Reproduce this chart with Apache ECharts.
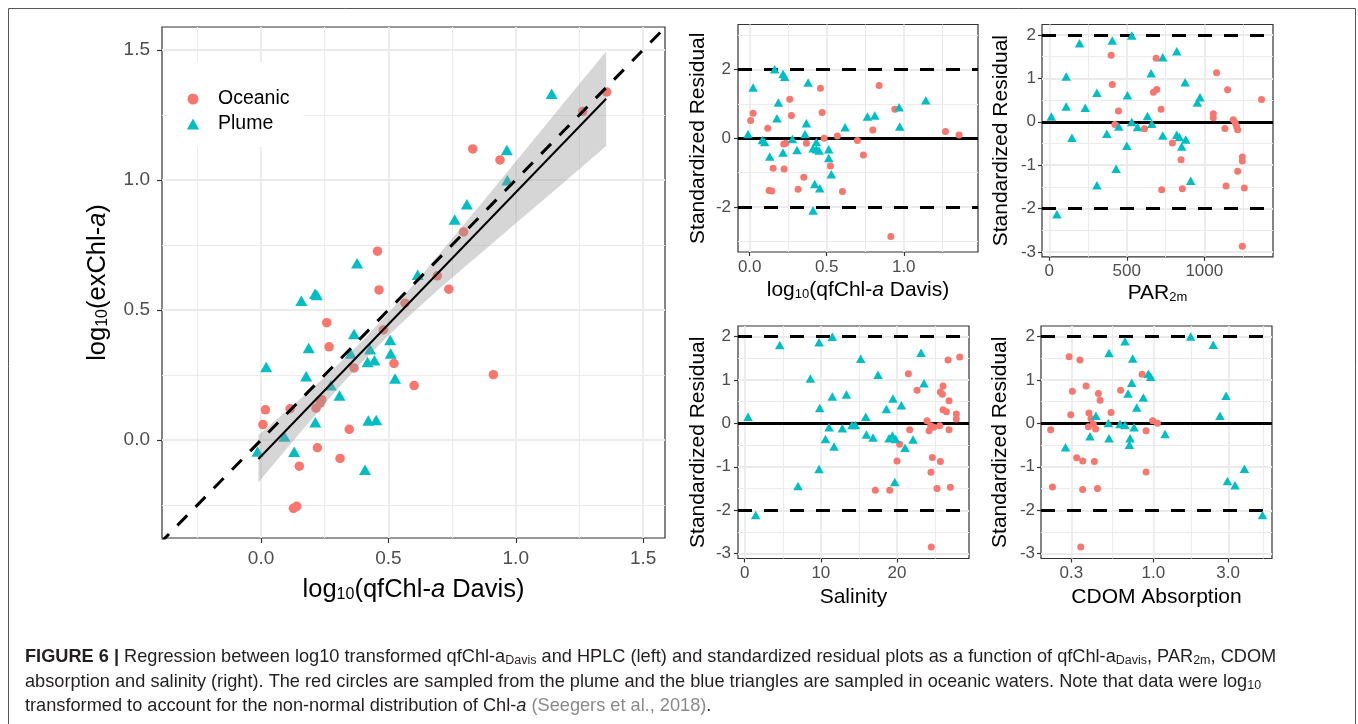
<!DOCTYPE html>
<html><head><meta charset="utf-8">
<script src="https://cdn.jsdelivr.net/npm/echarts@6/dist/echarts.min.js"></script>
<style>html,body{margin:0;padding:0;background:#fff;} #c{width:1358px;height:724px;}</style>
</head><body><div id="c"></div>
<script>
// ---------- Main regression panel ----------
const mainOceanicX = [1.357,1.263,0.831,0.938,0.795,0.457,0.692,0.737,0.463,0.565,0.258,0.480,0.267,0.522,0.365,0.912,0.601,0.238,0.232,0.017,0.114,0.216,0.007,0.346,0.221,0.310,0.150,0.127,0.140];
const mainOceanicY = [1.338,1.263,1.119,1.077,0.800,0.726,0.631,0.580,0.577,0.526,0.451,0.423,0.358,0.294,0.277,0.251,0.209,0.155,0.142,0.116,0.120,0.122,0.059,0.041,-0.030,-0.071,-0.101,-0.263,-0.255];
const mainPlumeX = [1.141,0.965,0.967,0.808,0.760,0.377,0.615,0.212,0.219,0.158,0.365,0.507,0.187,0.428,0.352,0.509,0.418,0.445,0.020,0.177,0.526,0.274,0.308,0.213,0.421,0.452,0.092,0.130,-0.014,0.408];
const mainPlumeY = [1.331,1.115,0.999,0.906,0.848,0.680,0.635,0.562,0.557,0.535,0.407,0.384,0.354,0.349,0.332,0.332,0.300,0.307,0.281,0.245,0.236,0.210,0.171,0.068,0.075,0.077,0.013,-0.045,-0.044,-0.115];
const regX = [-0.0105, 1.355];
const regY = [-0.073, 1.312];
const bandX  = [-0.0105, 0.1, 0.2, 0.3, 0.4, 0.5, 0.6, 0.7, 0.8, 0.9, 1.0, 1.1, 1.2, 1.355];
const bandLo = [-0.164,-0.034,0.082,0.196,0.303,0.402,0.493,0.581,0.666,0.749,0.833,0.916,1.000,1.130];
const bandHi = [0.018,0.112,0.198,0.288,0.383,0.488,0.599,0.715,0.832,0.951,1.071,1.190,1.310,1.494];
const oneToOne = [-0.4, 1.6];
const mainTicks = [0, 0.5, 1.0, 1.5];
const mainMinor = [-0.25, 0.25, 0.75, 1.25];

// ---------- Residual vs log10(qfChl-a Davis) ----------
const res1PlumeX = [-0.011,0.022,0.082,0.097,0.13,0.162,0.216,0.227,0.186,0.177,0.216,0.277,0.307,0.379,0.368,0.359,0.411,0.433,0.433,0.45,0.422,0.455,0.411,0.513,0.513,0.53,0.619,0.764,0.812,0.97,0.974,1.143];
const res1PlumeY = [0.126,1.469,-0.048,-0.106,-0.53,2.0,1.865,1.787,1.034,0.58,-0.415,-0.019,-0.338,1.614,0.435,0.126,-0.29,-0.106,-0.319,-0.357,-1.324,-1.449,-2.097,-0.319,-0.57,-1.043,0.319,0.628,0.657,0.899,0.338,1.101];
const res1OceanicX = [0.006,0.022,0.117,0.126,0.143,0.152,0.221,0.223,0.234,0.26,0.271,0.314,0.351,0.368,0.459,0.47,0.483,0.524,0.569,0.602,0.699,0.738,0.799,0.84,0.942,0.916,1.271,1.359];
const res1OceanicY = [0.512,0.725,0.29,-1.517,-1.527,-0.87,-0.164,-0.889,-0.145,1.13,0.657,-1.478,-1.13,-0.145,1.449,0.744,0.0,-0.802,0.068,-1.546,-0.068,-0.483,0.242,1.527,0.841,-2.85,0.193,0.097];
const res1XTicks = [0, 0.5, 1.0];
const res1XMinor = [0.25, 0.75, 1.25];
const res1YTicks = [-2, 0, 2];
const res1YMinor = [-3, -1, 1, 3];

// ---------- Residual vs PAR2m ----------
const res2PlumeX = [13,49,109,109,146,195,232,307,307,371,406,431,448,500,504,532,532,569,633,657,661,732,732,822,822,839,854,880,876,912,955,972];
const res2PlumeY = [0.123,-2.13,1.042,0.352,-0.368,1.808,0.322,-1.464,0.667,-0.276,1.87,-1.08,-0.107,-0.552,0.613,1.985,-0.008,-0.123,0.13,1.119,-0.046,1.487,-0.314,1.625,-0.299,-0.352,-0.567,-0.406,0.912,-1.356,0.444,0.567];
const res2OceanicX = [399,406,423,446,614,689,672,693,721,725,794,850,858,1058,1058,1079,1133,1140,1150,1187,1200,1208,1215,1215,1245,1245,1258,1245,1369];
const res2OceanicY = [1.533,0.858,-0.061,0.245,-0.161,1.464,0.682,0.743,0.291,-1.563,-0.49,-0.874,-1.54,0.184,0.092,1.126,-0.153,-1.479,0.736,0.046,-0.031,-0.107,-0.184,-1.142,-0.812,-0.904,-1.525,-2.866,0.513];
const res2XTicks = [0, 500, 1000];
const res2XMinor = [250, 750, 1250];

// ---------- Residual vs Salinity ----------
const res3PlumeX = [0.44,1.44,4.6,7.0,8.62,9.76,9.85,9.76,10.6,11.07,11.5,11.5,11.73,12.82,13.35,14.09,14.53,15.23,15.89,15.97,16.85,17.5,18.6,18.95,19.39,19.47,19.7,19.82,20.57,21.05,22.1,23.15,23.54];
const res3PlumeY = [0.152,-2.11,1.80,-1.44,1.03,1.867,0.351,-1.052,-0.358,-0.091,1.99,0.617,-0.534,-0.114,0.663,-0.038,-0.038,1.486,0.152,-0.259,-0.328,1.12,0.328,-0.343,-0.282,0.572,-1.349,-0.358,0.419,-0.564,-0.373,1.624,0.922];
const res3OceanicX = [17.15,19.04,20.0,20.35,21.49,21.66,22.63,23.94,24.2,24.42,24.46,24.64,24.81,24.5,25.25,25.6,25.69,25.69,25.95,26.04,26.04,26.48,26.7,26.83,26.83,27.0,27.79,27.79,28.23];
const res3OceanicY = [-1.54,-1.54,-0.869,-0.48,1.143,-0.145,0.762,0.061,-0.168,-0.053,-1.128,-0.785,-0.091,-2.843,-1.502,-0.053,-0.877,0.724,0.671,0.861,0.312,0.267,1.456,0.518,-0.145,-1.471,0.213,0.099,1.524];
const res3XTicks = [0, 10, 20];
const res3XMinor = [5, 15, 25];

// ---------- Residual vs CDOM absorption (log10 scale) ----------
const res4PlumeX = [0.275,0.394,0.43,0.516,0.521,0.521,0.613,0.659,0.659,0.689,0.703,0.71,0.728,0.738,0.753,0.783,0.863,0.929,0.962,1.187,1.73,2.41,2.66,2.91,2.97,3.32,3.81,4.97];
const res4PlumeY = [-0.549,-0.297,0.175,0.008,1.62,-0.343,-0.015,-0.038,1.89,0.686,-0.495,-0.343,0.937,1.494,-0.091,0.366,0.595,1.143,1.075,-0.244,2.0,1.81,0.175,0.633,-1.326,-1.425,-1.044,-2.111];
const res4OceanicX = [0.221,0.227,0.29,0.297,0.304,0.324,0.34,0.344,0.354,0.354,0.372,0.388,0.385,0.4,0.414,0.42,0.428,0.44,0.446,0.457,0.537,0.618,0.847,0.898,0.898,0.99,1.061];
const res4OceanicY = [-0.145,-1.463,1.532,0.198,0.739,-0.793,1.456,-2.843,-0.869,-1.524,0.861,0.236,-0.076,0.114,-0.023,-0.877,-0.13,-1.502,0.686,0.534,0.252,0.762,1.128,-0.168,-1.12,0.061,0.0];
const res4XTicks = [0.3, 1.0, 3.0];
const res4XMinor = [0.548, 1.732, 5.0];

const resYTicks = [-3, -2, -1, 0, 1, 2];
const resYMinor = [-2.5, -1.5, -0.5, 0.5, 1.5];
const refLevels = [-2, 2];

// ---------- styling ----------
const F = "'Liberation Sans', Arial, Helvetica, sans-serif";
const RED = '#F8766D', CYAN = '#00BFC4', GRIDC = '#EBEBEB';
const pairs = (xs, ys) => xs.map((x, i) => [x, ys[i]]);
const lg = v => Math.log10(v);

function gl(axis, vals, w) {
  return vals.map(v => ({ [axis]: v, lineStyle: { color: GRIDC, width: w, type: 'solid' } }));
}
function gridMarks(xMaj, xMin, yMaj, yMin) {
  return { silent: true, symbol: ['none', 'none'], label: { show: false }, animation: false, z: 1,
    data: [].concat(gl('xAxis', xMin, 1), gl('yAxis', yMin, 1), gl('xAxis', xMaj, 1.8), gl('yAxis', yMaj, 1.8)) };
}
function refMarks() {
  return { silent: true, symbol: ['none', 'none'], label: { show: false }, animation: false, z: 1.5,
    data: refLevels.map(v => ({ yAxis: v, lineStyle: { color: '#000', width: 3, type: [14, 12] } }))
      .concat([{ yAxis: 0, lineStyle: { color: '#000', width: 3, type: 'solid' } }]) };
}
const richName = (fs, sub) => ({
  fontSize: fs, fontFamily: F, color: '#000',
  rich: { s: { fontSize: sub, fontFamily: F, color: '#000', padding: [Math.round(fs * 0.4), 0, 0, 0] },
          i: { fontSize: fs, fontFamily: F, color: '#000', fontStyle: 'italic' } }
});
function axis(gi, min, max, ticks, fmt, fs, tickLen, margin, name, nameGap, nfs, isY) {
  return {
    gridIndex: gi, type: 'value', min: min, max: max,
    axisLine: { show: false, onZero: false },
    axisTick: { show: true, length: tickLen, lineStyle: { color: '#333', width: 1.2 }, customValues: ticks },
    axisLabel: { customValues: ticks, formatter: fmt, color: '#4D4D4D', fontSize: fs, fontFamily: F, margin: margin },
    splitLine: { show: false }, minorTick: { show: false }, minorSplitLine: { show: false },
    name: name, nameLocation: 'middle', nameGap: nameGap, nameRotate: isY ? 90 : 0,
    nameTextStyle: richName(nfs, Math.round(nfs * 0.62))
  };
}
const f1 = v => v.toFixed(1);
const f0 = v => String(Math.round(v));
const fLog = v => Math.pow(10, v).toFixed(1);

const gridBase = { show: true, borderColor: '#333', borderWidth: 1.2, backgroundColor: 'transparent', containLabel: false, outerBoundsMode: 'none' };
const grids = [
  Object.assign({ left: 162, top: 27, width: 503, height: 511 }, gridBase),
  Object.assign({ left: 738, top: 24.5, width: 240, height: 227.5 }, gridBase),
  Object.assign({ left: 1042, top: 24.5, width: 231, height: 232.3 }, gridBase),
  Object.assign({ left: 738, top: 326, width: 231, height: 232.5 }, gridBase),
  Object.assign({ left: 1041, top: 326, width: 231, height: 232.5 }, gridBase)
];

const RES = 'Standardized Residual';
const xAxes = [
  axis(0, -0.389, 1.586, mainTicks, f1, 19, 5, 11, 'log{s|10}(qfChl-{i|a} Davis)', 39, 25.5, false),
  axis(1, -0.076, 1.482, res1XTicks, f1, 17, 4, 7, 'log{s|10}(qfChl-{i|a} Davis)', 28, 21, false),
  axis(2, -47, 1443, res2XTicks, f0, 17, 4, 6, 'PAR{s|2m}', 26, 21, false),
  axis(3, -0.88, 29.45, res3XTicks, f0, 17, 4, 6, 'Salinity', 28, 21, false),
  axis(4, -0.717, 0.757, res4XTicks.map(lg), fLog, 17, 4, 6, 'CDOM Absorption', 28, 21, false)
];
const yAxes = [
  axis(0, -0.377, 1.588, mainTicks, f1, 19, 5, 12, 'log{s|10}(exChl-{i|a})', 51, 25.5, true),
  axis(1, -3.3, 3.3, res1YTicks, f0, 17, 4, 7, RES, 29, 21, true),
  axis(2, -3.11, 2.24, resYTicks, f0, 17, 4, 6, RES, 30, 21, true),
  axis(3, -3.11, 2.24, resYTicks, f0, 17, 4, 7, RES, 29, 21, true),
  axis(4, -3.11, 2.24, resYTicks, f0, 17, 4, 6, RES, 30, 21, true)
];

function scat(name, gi, data, isPlume, big, marks) {
  const s = {
    type: 'scatter', name: name, xAxisIndex: gi, yAxisIndex: gi, data: data, z: 2,
    symbol: isPlume ? 'triangle' : 'circle',
    symbolSize: isPlume ? (big ? [12, 10.5] : [9.5, 8.5]) : (big ? 9.5 : 7),
    itemStyle: { color: isPlume ? CYAN : RED, opacity: 1 },
    emphasis: { disabled: true }, silent: true, animation: false
  };
  if (marks) s.markLine = marks;
  return s;
}

const series = [
  scat('Oceanic', 0, pairs(mainOceanicX, mainOceanicY), false, true, gridMarks(mainTicks, mainMinor, mainTicks, mainMinor)),
  scat('Plume', 0, pairs(mainPlumeX, mainPlumeY), true, true, null),
  {
    type: 'custom', xAxisIndex: 0, yAxisIndex: 0, z: 3, silent: true, animation: false,
    data: bandX.map((x, i) => [x, bandLo[i], bandHi[i]]),
    encode: { x: 0, y: [1, 2] },
    renderItem: function (params, api) {
      if (params.dataIndex !== 0) return null;
      const up = bandX.map((x, i) => api.coord([x, bandHi[i]]));
      const lo = bandX.map((x, i) => api.coord([x, bandLo[i]])).reverse();
      return { type: 'polygon', shape: { points: up.concat(lo) }, style: { fill: 'rgba(153,153,153,0.4)' } };
    }
  },
  { type: 'line', xAxisIndex: 0, yAxisIndex: 0, z: 4, data: pairs(regX, regY), symbol: 'none',
    lineStyle: { color: '#000', width: 2 }, silent: true, animation: false, clip: true },
  { type: 'line', xAxisIndex: 0, yAxisIndex: 0, z: 4, data: pairs(oneToOne, oneToOne), symbol: 'none',
    lineStyle: { color: '#000', width: 3, type: [14, 12] }, silent: true, animation: false, clip: true },

  scat('Oceanic', 1, pairs(res1OceanicX, res1OceanicY), false, false, gridMarks(res1XTicks, res1XMinor, res1YTicks, res1YMinor)),
  scat('Plume', 1, pairs(res1PlumeX, res1PlumeY), true, false, refMarks()),
  scat('Oceanic', 2, pairs(res2OceanicX, res2OceanicY), false, false, gridMarks(res2XTicks, res2XMinor, resYTicks, resYMinor)),
  scat('Plume', 2, pairs(res2PlumeX, res2PlumeY), true, false, refMarks()),
  scat('Oceanic', 3, pairs(res3OceanicX, res3OceanicY), false, false, gridMarks(res3XTicks, res3XMinor, resYTicks, resYMinor)),
  scat('Plume', 3, pairs(res3PlumeX, res3PlumeY), true, false, refMarks()),
  scat('Oceanic', 4, res4OceanicX.map((x, i) => [lg(x), res4OceanicY[i]]), false, false,
       gridMarks(res4XTicks.map(lg), res4XMinor.map(lg), resYTicks, resYMinor)),
  scat('Plume', 4, res4PlumeX.map((x, i) => [lg(x), res4PlumeY[i]]), true, false, refMarks())
];

const CF = 18.2;
const capRich = {
  b: { fontWeight: 'bold', fontSize: CF, fontFamily: F, fill: '#231F20', color: '#231F20' },
  s: { fontSize: 12.5, fontFamily: F, fill: '#231F20', color: '#231F20', padding: [8, 0, 0, 0] },
  i: { fontStyle: 'italic', fontSize: CF, fontFamily: F, fill: '#231F20', color: '#231F20' },
  g: { fontSize: CF, fontFamily: F, fill: '#8A8A8A', color: '#8A8A8A' }
};
const capLines = [
  '{b|FIGURE 6 |} Regression between log10 transformed qfChl-a{s|Davis} and HPLC (left) and standardized residual plots as a function of qfChl-a{s|Davis}, PAR{s|2m}, CDOM',
  'absorption and salinity (right). The red circles are sampled from the plume and the blue triangles are sampled in oceanic waters. Note that data were log{s|10}',
  'transformed to account for the non-normal distribution of Chl-{i|a} {g|(Seegers et al., 2018)}.'
];
const capY = [657, 681.5, 706];

const graphic = [
  { type: 'rect', silent: true, z: 0, shape: { x: 8.5, y: 8.5, width: 1347, height: 740 },
    style: { fill: 'none', stroke: '#555', lineWidth: 1 } }
].concat(capLines.map((t, k) => ({
  type: 'text', x: 25, y: capY[k], silent: true, z: 10,
  style: { text: t, fontSize: CF, fontFamily: F, fill: '#231F20', verticalAlign: 'middle', align: 'left', rich: capRich }
})));

const chart = echarts.init(document.getElementById('c'), null, { renderer: 'canvas' });
chart.setOption({
  animation: false,
  backgroundColor: '#fff',
  grid: grids, xAxis: xAxes, yAxis: yAxes, series: series,
  legend: {
    orient: 'vertical', left: 168, top: 62, padding: [27, 14, 13, 19], itemGap: 5,
    itemWidth: 12, itemHeight: 11, backgroundColor: '#fff', selectedMode: false,
    textStyle: { fontSize: 19.5, fontFamily: F, color: '#000', padding: [0, 0, 0, 14] },
    data: [{ name: 'Oceanic', icon: 'circle' }, { name: 'Plume', icon: 'triangle' }]
  },
  graphic: graphic
});
</script>
</body></html>
